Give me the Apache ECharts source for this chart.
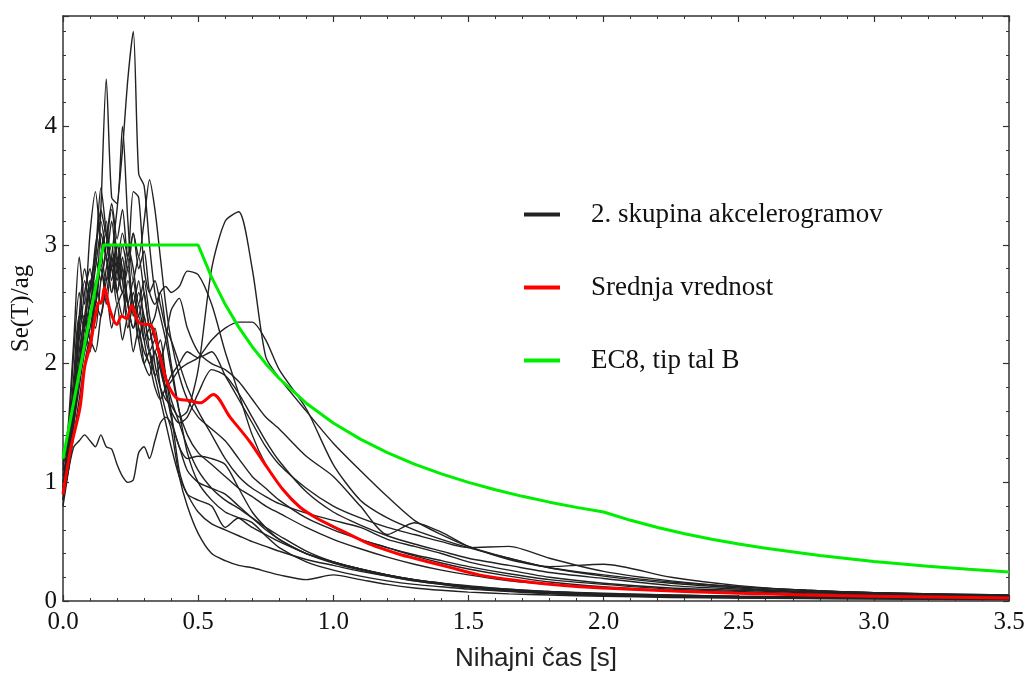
<!DOCTYPE html>
<html><head><meta charset="utf-8">
<script src="https://cdn.jsdelivr.net/npm/echarts@6/dist/echarts.min.js"></script>
<style>html,body{margin:0;padding:0;background:#fff}#c{width:1027px;height:673px}</style>
</head><body><div id="c"></div>
<script>
// Period grid (s) shared by all accelerogram spectra
const T = [0,0.02,0.04,0.06,0.08,0.10,0.12,0.14,0.16,0.18,0.20,0.22,0.24,0.26,0.28,0.30,0.32,0.34,0.36,0.38,0.40,0.43,0.46,0.50,0.55,0.60,0.65,0.70,0.75,0.80,0.90,1.00,1.10,1.20,1.30,1.40,1.50,1.65,1.80,2.00,2.25,2.50,2.75,3.00,3.50];

// Individual spectra, Se(T)/ag
const s1  = [1.00,1.35,1.90,2.40,2.40, 2.20,2.60,2.85,2.50,2.90, 3.30,3.80,4.40,4.80,3.60, 3.50,3.00,2.60,2.40,2.20, 1.95,1.60,1.40,1.25,1.15, 1.05,0.95,0.88,0.80,0.74, 0.62,0.52,0.44,0.37,0.31, 0.26,0.22,0.17,0.14,0.11, 0.085,0.07,0.055,0.045,0.03];
const s2  = [0.95,1.40,2.10,2.60,2.30, 2.70,2.50,3.30,4.40,3.40, 3.35,4.00,3.20,2.70,2.90, 2.60,2.30,2.10,2.20,1.90, 1.70,1.50,1.30,1.10,0.95, 0.85,0.78,0.70,0.62,0.55, 0.42,0.33,0.27,0.22,0.18, 0.15,0.12,0.10,0.08,0.065, 0.05,0.04,0.035,0.03,0.02];
const s3  = [0.90,1.20,1.60,2.40,2.30, 2.10,2.50,2.80,2.60,2.90, 2.70,3.00,2.80,3.10,2.90, 3.20,3.55,3.30,2.90,2.50, 2.20,1.90,1.70,1.55,1.45, 1.35,1.20,1.05,0.95,0.85, 0.70,0.60,0.52,0.45,0.38, 0.32,0.27,0.21,0.16,0.12, 0.09,0.07,0.06,0.05,0.035];
const s4  = [1.10,1.50,2.20,2.90,2.50, 3.10,3.45,3.00,2.70,2.80, 2.50,2.60,2.30,2.50,2.20, 2.00,2.10,1.90,1.70,1.50, 1.30,1.05,0.90,0.75,0.65, 0.60,0.55,0.50,0.46,0.42, 0.35,0.30,0.25,0.21,0.17, 0.14,0.12,0.09,0.07,0.055, 0.04,0.035,0.03,0.025,0.02];
const s5  = [0.85,1.20,1.70,2.30,2.70, 2.50,2.90,3.48,3.10,2.70, 3.00,2.80,2.50,2.70,2.40, 2.60,2.30,2.40,2.60,2.30, 2.00,1.60,1.25,1.00,0.85, 0.75,0.70,0.62,0.56,0.50, 0.40,0.33,0.27,0.22,0.18, 0.15,0.13,0.10,0.08,0.06, 0.05,0.04,0.035,0.03,0.02];
const s6  = [1.00,1.30,1.50,1.90,2.20, 2.40,2.30,2.70,2.90,2.60, 2.80,3.10,2.90,3.45,3.40, 2.80,2.60,2.70,2.50,2.30, 2.20,2.00,1.80,1.60,1.40, 1.20,1.05,0.95,0.88,0.82, 0.74,0.68,0.62,0.52,0.46, 0.40,0.33,0.26,0.20,0.15, 0.11,0.09,0.07,0.06,0.04];
const s7  = [0.95,1.20,1.50,1.80,2.10, 2.30,2.50,2.40,2.70,2.90, 2.60,2.80,2.50,2.30,2.40, 2.20,2.30,2.00,1.80,1.70, 1.65,1.55,1.60,1.95,2.80, 3.20,3.28,2.80,2.06,1.88, 1.60,1.33,1.10,0.88,0.68, 0.56,0.46,0.35,0.29,0.31, 0.20,0.13,0.09,0.07,0.045];
const s8  = [0.90,1.10,1.40,1.70,2.00, 2.20,2.10,2.40,2.60,2.30, 2.50,2.20,2.40,2.10,2.30, 2.00,1.90,2.10,1.95,1.80, 1.85,1.95,2.00,2.05,2.20, 2.30,2.35,2.35,2.20,1.95, 1.62,1.15,0.85,0.70,0.60, 0.52,0.45,0.36,0.28,0.22, 0.16,0.12,0.09,0.07,0.05];
const s9  = [1.05,1.30,1.60,2.00,2.40, 2.20,2.70,2.50,2.80,3.00, 2.60,2.40,2.70,2.50,2.20, 2.40,2.10,1.90,2.00,2.20, 2.45,2.55,2.30,2.10,2.00, 1.95,1.85,1.70,1.55,1.45, 1.22,1.05,0.80,0.56,0.66, 0.58,0.46,0.36,0.28,0.21, 0.15,0.11,0.08,0.065,0.045];
const s10 = [0.95,1.25,1.70,2.20,2.60, 2.80,2.50,2.90,3.20,2.80, 3.00,2.70,2.40,2.60,2.30, 2.10,2.00,1.80,1.70,1.80, 1.90,2.00,2.10,2.05,2.10, 1.90,1.70,1.50,1.30,1.15, 0.95,0.80,0.70,0.62,0.56, 0.50,0.45,0.46,0.36,0.25, 0.17,0.12,0.09,0.07,0.05];
const s11 = [0.80,1.10,1.50,1.90,2.30, 2.50,2.80,3.10,2.90,3.20, 2.80,2.60,2.90,2.50,2.70, 2.30,2.10,2.20,2.00,1.75, 1.60,1.50,1.55,1.75,1.95, 1.90,1.75,1.55,1.35,1.18, 0.92,0.75,0.64,0.55,0.48, 0.42,0.36,0.30,0.24,0.19, 0.13,0.10,0.075,0.06,0.04];
const s12 = [0.90,1.20,1.60,2.10,2.40, 2.70,2.50,2.90,3.10,2.80, 2.60,2.90,2.50,2.30,2.50, 2.20,2.00,2.10,1.80,1.60, 1.45,1.05,0.80,0.57,0.40, 0.34,0.30,0.28,0.25,0.22, 0.18,0.22,0.18,0.14,0.11, 0.09,0.075,0.06,0.05,0.04, 0.03,0.025,0.02,0.018,0.012];
const s13 = [0.85,1.10,1.30,1.35,1.40, 1.35,1.30,1.40,1.30,1.28, 1.15,1.05,1.00,1.02,1.25, 1.30,1.20,1.35,1.50,1.55, 1.50,1.30,1.10,1.00,0.95, 0.90,0.80,0.70,0.60,0.52, 0.40,0.33,0.27,0.22,0.18, 0.15,0.12,0.09,0.07,0.055, 0.04,0.035,0.03,0.025,0.018];
const s14 = [1.15,1.40,1.80,2.30,2.10, 2.60,2.90,2.70,3.00,3.30, 2.90,2.60,2.80,2.40,2.60, 2.40,2.20,2.30,2.00,1.80, 1.55,1.30,1.20,1.22,1.20, 1.15,0.95,0.75,0.62,0.52, 0.40,0.32,0.26,0.21,0.17, 0.14,0.11,0.085,0.065,0.05, 0.04,0.03,0.025,0.02,0.015];
const s15 = [0.95,1.30,1.70,2.40,2.80, 2.60,3.00,3.20,2.90,2.60, 2.90,2.70,3.00,2.80,2.50, 2.70,2.40,2.20,2.10,1.90, 1.60,1.10,0.90,0.85,0.80, 0.62,0.70,0.66,0.55,0.45, 0.33,0.26,0.21,0.17,0.14, 0.12,0.10,0.08,0.06,0.045, 0.035,0.028,0.022,0.018,0.012];
const s16 = [1.00,1.25,1.55,1.95,2.35, 2.65,2.90,3.30,3.10,3.35, 3.05,3.30,2.90,3.10,2.80, 2.95,2.60,2.50,2.60,2.65, 2.60,2.65,2.78,2.75,2.50, 2.10,1.75,1.40,1.15,0.98, 0.75,0.62,0.52,0.45,0.39, 0.34,0.29,0.23,0.18,0.14, 0.10,0.08,0.06,0.05,0.035];
const spectra = [s1,s2,s3,s4,s5,s6,s7,s8,s9,s10,s11,s12,s13,s14,s15,s16];

// Mean spectrum
const meanT = [0,0.03,0.063,0.08,0.10,0.13,0.143,0.153,0.174,0.199,0.217,0.236,0.254,0.279,0.312,0.322,0.359,0.384,0.42,0.464,0.507,0.556,0.618,0.692,0.754,0.815,0.877,0.938,1.025,1.124,1.17,1.25,1.30,1.42,1.54,1.665,1.79,1.91,2.10,2.50,3.00,3.50];
const meanV = [0.90,1.30,1.63,1.97,2.15,2.51,2.52,2.64,2.45,2.33,2.40,2.38,2.49,2.35,2.33,2.33,2.06,1.85,1.71,1.69,1.67,1.74,1.55,1.34,1.13,0.935,0.79,0.70,0.60,0.49,0.45,0.39,0.36,0.29,0.22,0.177,0.143,0.12,0.099,0.065,0.04,0.025];

// EC8 elastic spectrum, ground type B
const ec8T = [0,0.15,0.50,0.55,0.60,0.65,0.70,0.75,0.80,0.90,1.00,1.10,1.20,1.30,1.40,1.50,1.60,1.70,1.80,1.90,2.00,2.10,2.20,2.30,2.40,2.50,2.60,2.80,3.00,3.20,3.35,3.50];
const ec8V = [1.20,3.00,3.00,2.727,2.50,2.308,2.143,2.00,1.875,1.667,1.50,1.364,1.25,1.154,1.071,1.00,0.9375,0.882,0.833,0.789,0.75,0.68,0.62,0.567,0.521,0.48,0.444,0.383,0.333,0.293,0.267,0.245];

const xTicks = ['0.0','0.5','1.0','1.5','2.0','2.5','3.0','3.5'];
const yTicks = ['0','1','2','3','4'];
const names = ['2. skupina akcelerogramov','Srednja vrednost','EC8, tip tal B'];

const serif = 'Liberation Serif';
const axisCol = '#333';
const chart = echarts.init(document.getElementById('c'), null, {renderer:'canvas'});

const series = spectra.map(s => ({
  name: names[0], type:'line', data: T.map((t,i)=>[t,s[i]]),
  showSymbol:false, symbol:'none', smooth:0.25, silent:true,
  lineStyle:{color:'#222', width:1.4}, itemStyle:{color:'#222'}, z:2
}));
series.push({
  name: names[1], type:'line', data: meanT.map((t,i)=>[t,meanV[i]]),
  showSymbol:false, symbol:'none', smooth:0.3, silent:true,
  lineStyle:{color:'#ff0000', width:3}, itemStyle:{color:'#ff0000'}, z:3
});
series.push({
  name: names[2], type:'line', data: ec8T.map((t,i)=>[t,ec8V[i]]),
  showSymbol:false, symbol:'none', smooth:false, silent:true,
  lineStyle:{color:'#00ee00', width:3}, itemStyle:{color:'#00ee00'}, z:4
});

const commonX = {
  type:'value', min:0, max:3.5, interval:0.5,
  axisLine:{show:true, onZero:false, lineStyle:{color:axisCol, width:1.5}},
  axisTick:{show:true, inside:true, length:6, lineStyle:{color:axisCol, width:1.2}},
  minorTick:{show:true, splitNumber:5, length:3, lineStyle:{color:axisCol}},
  splitLine:{show:false}
};
const commonY = {
  type:'value', min:0, max:4.93, interval:1,
  axisLine:{show:true, onZero:false, lineStyle:{color:axisCol, width:1.5}},
  axisTick:{show:true, inside:true, length:6, lineStyle:{color:axisCol, width:1.2}},
  minorTick:{show:true, splitNumber:5, length:3, lineStyle:{color:axisCol}},
  splitLine:{show:false}
};

chart.setOption({
  animation:false,
  backgroundColor:'#fff',
  grid:{left:63, right:18, top:16, bottom:72, containLabel:false, outerBoundsMode:'none'},
  legend:{
    orient:'vertical', left:519, top:194, itemWidth:36, itemHeight:4, itemGap:42,
    icon:'rect', selectedMode:false,
    data:names,
    textStyle:{fontFamily:serif, fontSize:27, color:'#111', lineHeight:31, padding:[0,0,0,26]}
  },
  xAxis:[
    Object.assign({}, commonX, {position:'bottom',
      name:'Nihajni čas [s]', nameLocation:'middle', nameGap:45,
      nameTextStyle:{fontFamily:'Liberation Sans', fontSize:26, color:'#222'},
      axisLabel:{fontFamily:serif, fontSize:25, color:'#111', margin:9,
        formatter:v=>xTicks[Math.round(v/0.5)] ?? ''}}),
    Object.assign({}, commonX, {position:'top', axisLabel:{show:false}})
  ],
  yAxis:[
    Object.assign({}, commonY, {position:'left',
      name:'Se(T)/ag', nameLocation:'middle', nameGap:24,
      nameTextStyle:{fontFamily:serif, fontSize:25, color:'#111'},
      axisLabel:{fontFamily:serif, fontSize:25, color:'#111', margin:6,
        formatter:v=>yTicks[Math.round(v)] ?? ''}}),
    Object.assign({}, commonY, {position:'right', axisLabel:{show:false}})
  ],
  series: series
});
</script></body></html>
